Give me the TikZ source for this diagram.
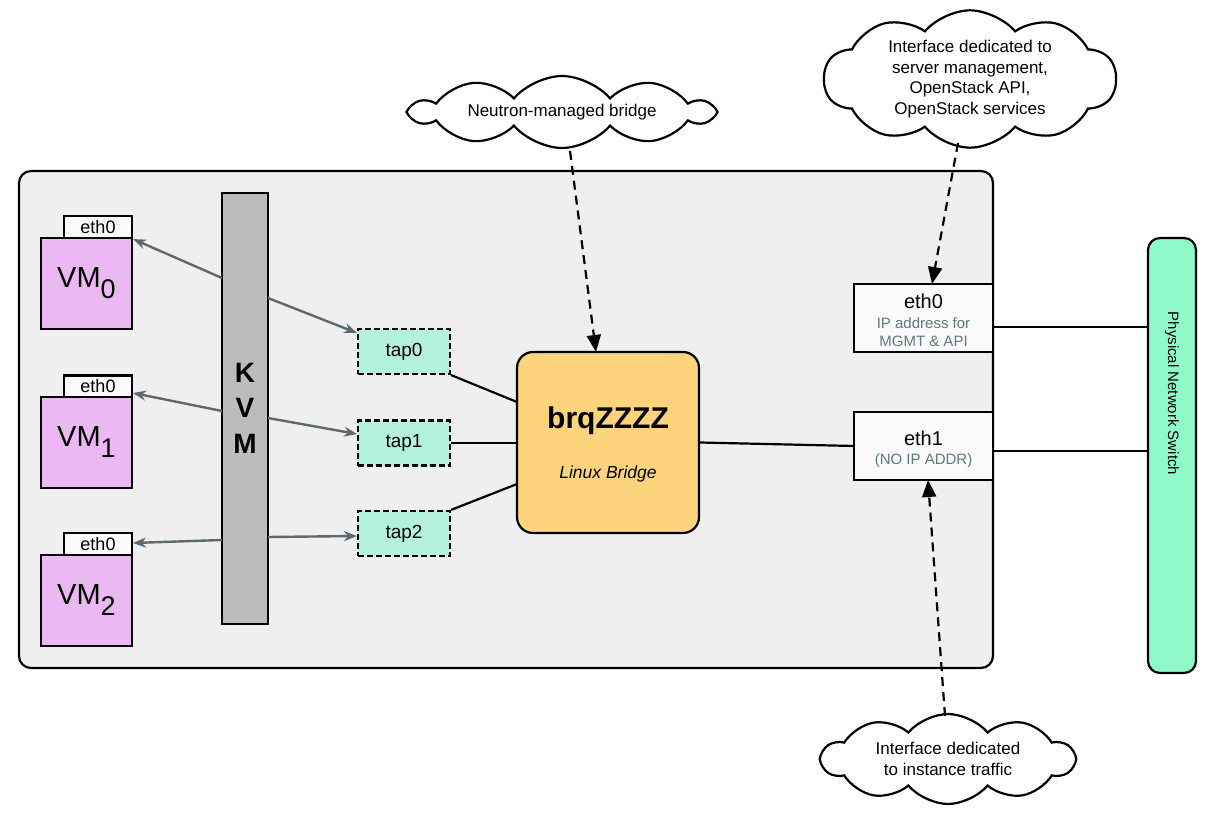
\documentclass[tikz,border=0pt]{standalone}
\usepackage{fontspec}
\setmainfont{Liberation Sans}
\usetikzlibrary{shapes.symbols,arrows.meta}
\definecolor{hostfill}{HTML}{EFEFEF}
\definecolor{vmfill}{HTML}{EBB8F3}
\definecolor{kvmfill}{HTML}{BCBCBC}
\definecolor{tapfill}{HTML}{B3F0DD}
\definecolor{brfill}{HTML}{FDD37C}
\definecolor{swfill}{HTML}{8FF9C9}
\definecolor{tabfill}{HTML}{FAFAFA}
\definecolor{arrgray}{HTML}{5C6A70}
\definecolor{subtext}{HTML}{5E7A7E}
\tikzset{
  box/.style={draw=black, line width=2.2pt, inner sep=0pt, anchor=center},
  vmbox/.style={box, fill=vmfill, minimum width=91pt, minimum height=91pt},
  tabbox/.style={box, fill=tabfill, minimum width=68pt, minimum height=22pt, font=\fontsize{18}{20}\selectfont},
  tapbox/.style={box, fill=tapfill, dash pattern=on 6pt off 3pt, minimum width=92pt, minimum height=45pt, font=\fontsize{19}{21}\selectfont},
  hostif/.style={box, fill=tabfill, minimum width=139pt, minimum height=68pt},
  vmlabel/.style={anchor=base, font=\fontsize{29}{30}\selectfont},
  smalltxt/.style={text=subtext, font=\fontsize{15}{18}\selectfont, inner sep=0pt},
  iftxt/.style={font=\fontsize{20}{22}\selectfont, inner sep=0pt},
  cloudnote/.style={cloud, draw=black, line width=2.2pt, fill=white, cloud puffs=10, cloud puff arc=100, cloud ignores aspect, inner sep=0pt, align=center, font=\fontsize{17}{20.5}\selectfont},
  grayarrow/.style={draw=arrgray, line width=2.4pt, -{Stealth[length=13pt,width=10pt]}},
  wire/.style={draw=black, line width=2.2pt},
  dasharrow/.style={draw=black, line width=2.2pt, dash pattern=on 9pt off 6pt, -{Triangle[length=17pt,width=14pt]}}
}
\newcommand{\vmsub}[1]{\raisebox{-11pt}{\fontsize{27}{27}\selectfont #1}}
\begin{document}
\begin{tikzpicture}[x=1pt,y=-1pt]
\useasboundingbox[fill=white] (0,0) rectangle (1210,826);
% host
\node[box, fill=hostfill, rounded corners=12pt, minimum width=974pt, minimum height=497pt] (host) at (506,419.5) {};
% VMs
\node[tabbox] (t0) at (98,227) {eth0};
\node[vmbox] (vm0) at (86.5,283.5) {};
\node[vmlabel] (vm0l) at (86.5,288) {VM\vmsub{0}};
\node[tabbox] (t1) at (98,386.5) {eth0};
\node[vmbox] (vm1) at (86.5,442.5) {};
\node[vmlabel] (vm1l) at (86.5,446) {VM\vmsub{1}};
\node[tabbox] (t2) at (98,544) {eth0};
\node[vmbox] (vm2) at (86.5,600.5) {};
\node[vmlabel] (vm2l) at (86.5,604) {VM\vmsub{2}};
% KVM
\node[box, fill=kvmfill, minimum width=46pt, minimum height=431pt] (kvm) at (245,408.5) {};
\node[font=\fontsize{28}{35.5}\selectfont\bfseries, align=center] (kvml) at (245,408) {K\\V\\M};
% taps
\node[tapbox] (tap0) at (404,351.5) {tap0};
\node[tapbox] (tap1) at (404,443) {tap1};
\node[tapbox] (tap2) at (404,533.5) {tap2};
% bridge
\node[box, fill=brfill, rounded corners=16pt, minimum width=182pt, minimum height=181pt] (br) at (608,442.5) {};
\node[font=\fontsize{30}{30}\selectfont\bfseries] (brl) at (608,421) {brqZZZZ};
\node[font=\fontsize{17.5}{20}\selectfont\itshape] (brs) at (608,474) {Linux Bridge};
% host interfaces
\node[hostif] (e0) at (923.5,318) {};
\node[iftxt] (e0a) at (923.5,301) {eth0};
\node[smalltxt] (e0b) at (923.5,323.5) {IP address for};
\node[smalltxt] (e0c) at (923.5,341) {MGMT \& API};
\node[hostif] (e1) at (923.5,446) {};
\node[iftxt] (e1a) at (923.5,438) {eth1};
\node[smalltxt] (e1b) at (923.5,461) {(NO IP ADDR)};
% switch
\node[box, fill=swfill, rounded corners=12pt, minimum width=48pt, minimum height=435pt] (sw) at (1172,455.5) {};
\node[rotate=-90, font=\fontsize{15}{18}\selectfont] (swl) at (1172,393.5) {Physical Network Switch};
% clouds
\node[cloudnote, minimum width=300pt, minimum height=72pt] (c1) at (562,112) {Neutron-managed bridge};
\node[cloudnote, minimum width=292pt, minimum height=124pt] (c2) at (970,79) {Interface dedicated to\\server management,\\OpenStack API,\\OpenStack services};
\node[cloudnote, minimum width=252pt, minimum height=90pt] (c3) at (948,759) {Interface dedicated\\to instance traffic};
% coordinates on KVM edges and targets
\coordinate (k0l) at (222,278);
\coordinate (k0r) at (268,298);
\coordinate (k1l) at (222,411);
\coordinate (k1r) at (268,418);
\coordinate (k2l) at (222,540);
\coordinate (k2r) at (268,537);
\coordinate (tap0in) at (357,333);
\coordinate (tap1in) at (357,434);
\coordinate (tap2in) at (357,536);
\coordinate (t1c) at (133,393);
\coordinate (t2c) at (133,543);
\draw[grayarrow] (k0l) -- (t0.south east);
\draw[grayarrow] (k0r) -- (tap0in);
\draw[grayarrow] (k1l) -- (t1c);
\draw[grayarrow] (k1r) -- (tap1in);
\draw[grayarrow] (k2l) -- (t2c);
\draw[grayarrow] (k2r) -- (tap2in);
% bridge wires
\coordinate (br0) at (517,402);
\coordinate (br2) at (517,484);
\draw[wire] (tap0.south east) -- (br0);
\draw[wire] (tap1.east) -- (br.west |- tap1.east);
\draw[wire] (tap2.north east) -- (br2);
\coordinate (e1in) at (854,446);
\draw[wire] (br.east) -- (e1in);
\coordinate (sw0) at (1148,327);
\coordinate (sw1) at (1148,451);
\coordinate (e0out) at (993,327);
\coordinate (e1out) at (993,451);
\draw[wire] (e0out) -- (sw0);
\draw[wire] (e1out) -- (sw1);
% dashed arrows
\coordinate (c1b) at (570,151);
\coordinate (brtop) at (596,352);
\coordinate (c2b) at (958,143);
\coordinate (e0top) at (932,284);
\coordinate (c3t) at (945,716);
\coordinate (e1bot) at (928,480);
\draw[dasharrow] (c1b) -- (brtop);
\draw[dasharrow] (c2b) -- (e0top);
\draw[dasharrow] (c3t) -- (e1bot);
\end{tikzpicture}
\end{document}
